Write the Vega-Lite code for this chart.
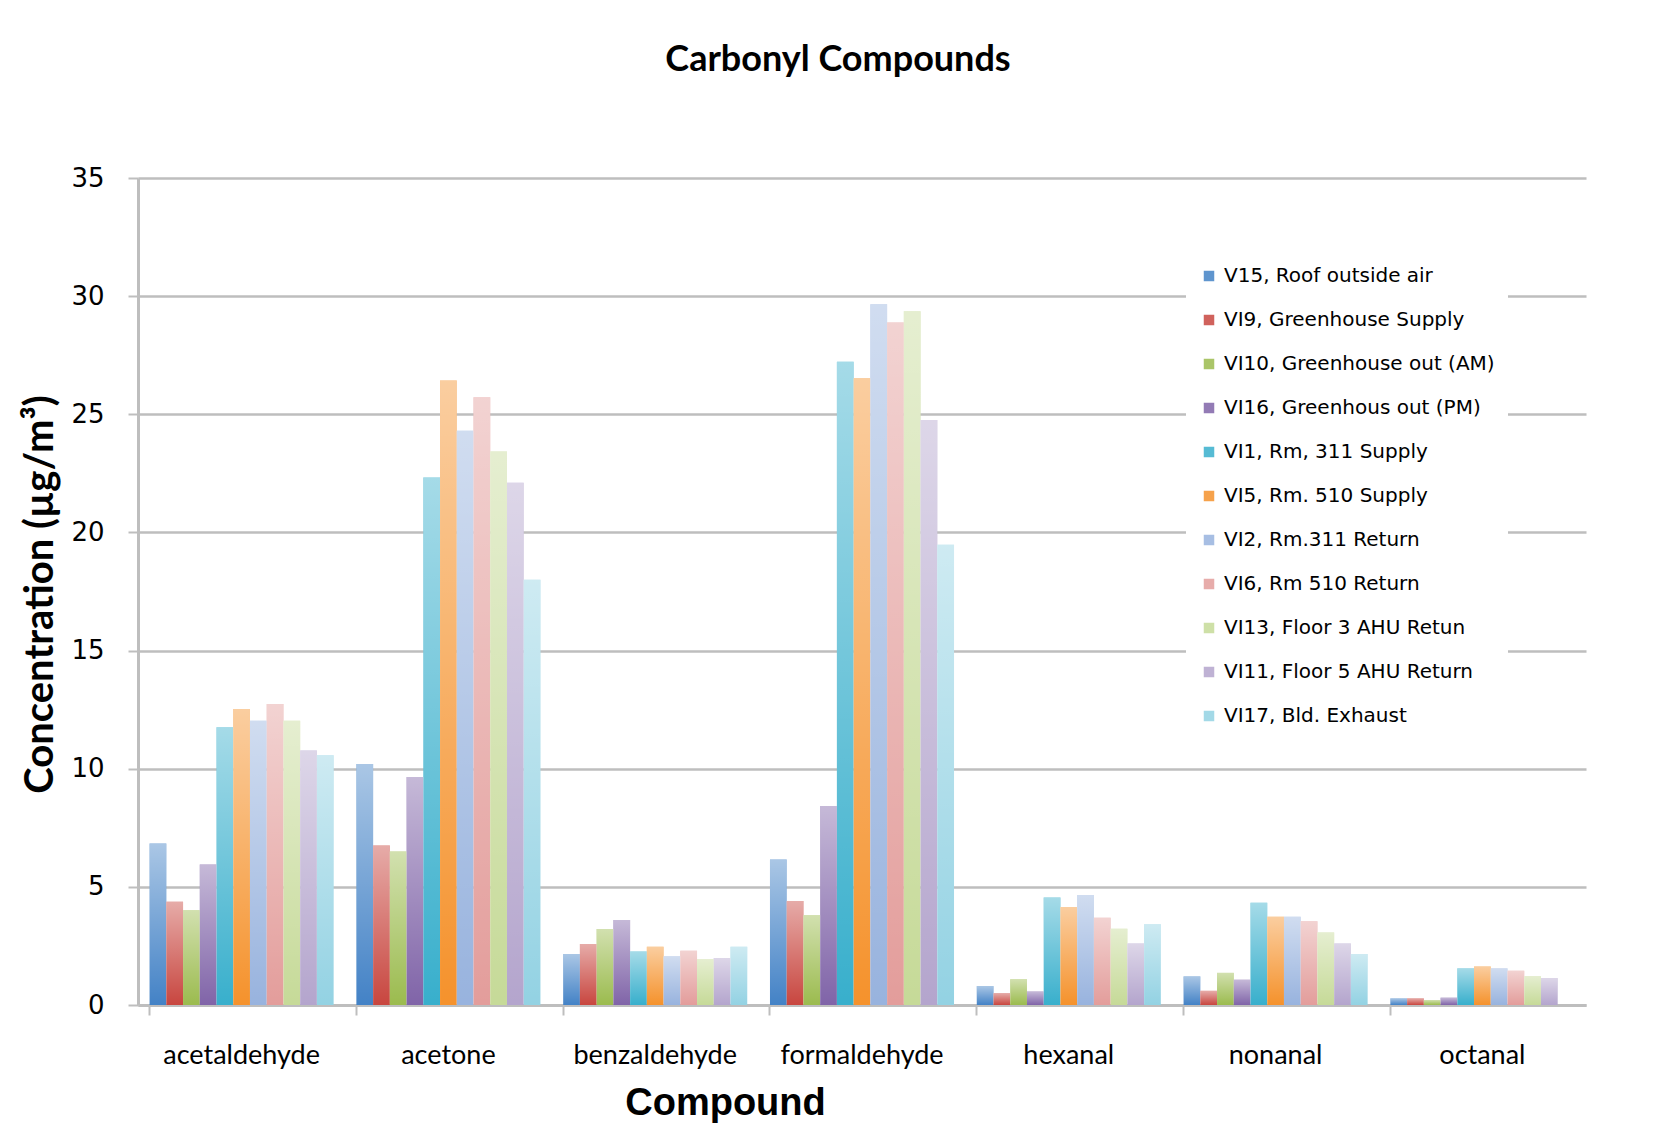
{
  "$schema": "https://vega.github.io/schema/vega-lite/v6.json",
  "autosize": {"type": "none"},
  "width": 1448,
  "height": 827,
  "padding": {"left": 138, "top": 178, "right": 77, "bottom": 128},
  "background": "white",
  "title": {
    "text": "Carbonyl Compounds",
    "font": "Lato",
    "fontSize": 36,
    "fontWeight": "bold",
    "color": "#000000",
    "anchor": "middle",
    "frame": "group",
    "offset": 86,
    "dx": -24
  },
  "data": {
    "values": [
      {"compound": "acetaldehyde", "site": "V15, Roof outside air", "value": 6.83},
      {"compound": "acetaldehyde", "site": "VI9, Greenhouse Supply", "value": 4.37},
      {"compound": "acetaldehyde", "site": "VI10, Greenhouse out (AM)", "value": 4.01},
      {"compound": "acetaldehyde", "site": "VI16, Greenhous out (PM)", "value": 5.95},
      {"compound": "acetaldehyde", "site": "VI1, Rm, 311 Supply", "value": 11.75},
      {"compound": "acetaldehyde", "site": "VI5, Rm. 510 Supply", "value": 12.53},
      {"compound": "acetaldehyde", "site": "VI2, Rm.311 Return", "value": 12.03},
      {"compound": "acetaldehyde", "site": "VI6, Rm 510 Return", "value": 12.74},
      {"compound": "acetaldehyde", "site": "VI13, Floor 3 AHU Retun", "value": 12.03},
      {"compound": "acetaldehyde", "site": "VI11, Floor 5 AHU Return", "value": 10.77},
      {"compound": "acetaldehyde", "site": "VI17, Bld. Exhaust", "value": 10.57},
      {"compound": "acetone", "site": "V15, Roof outside air", "value": 10.2},
      {"compound": "acetone", "site": "VI9, Greenhouse Supply", "value": 6.75},
      {"compound": "acetone", "site": "VI10, Greenhouse out (AM)", "value": 6.5},
      {"compound": "acetone", "site": "VI16, Greenhous out (PM)", "value": 9.65},
      {"compound": "acetone", "site": "VI1, Rm, 311 Supply", "value": 22.32},
      {"compound": "acetone", "site": "VI5, Rm. 510 Supply", "value": 26.43},
      {"compound": "acetone", "site": "VI2, Rm.311 Return", "value": 24.3},
      {"compound": "acetone", "site": "VI6, Rm 510 Return", "value": 25.72},
      {"compound": "acetone", "site": "VI13, Floor 3 AHU Retun", "value": 23.42},
      {"compound": "acetone", "site": "VI11, Floor 5 AHU Return", "value": 22.1},
      {"compound": "acetone", "site": "VI17, Bld. Exhaust", "value": 18.0},
      {"compound": "benzaldehyde", "site": "V15, Roof outside air", "value": 2.16},
      {"compound": "benzaldehyde", "site": "VI9, Greenhouse Supply", "value": 2.58},
      {"compound": "benzaldehyde", "site": "VI10, Greenhouse out (AM)", "value": 3.22},
      {"compound": "benzaldehyde", "site": "VI16, Greenhous out (PM)", "value": 3.6},
      {"compound": "benzaldehyde", "site": "VI1, Rm, 311 Supply", "value": 2.26},
      {"compound": "benzaldehyde", "site": "VI5, Rm. 510 Supply", "value": 2.47},
      {"compound": "benzaldehyde", "site": "VI2, Rm.311 Return", "value": 2.06},
      {"compound": "benzaldehyde", "site": "VI6, Rm 510 Return", "value": 2.3},
      {"compound": "benzaldehyde", "site": "VI13, Floor 3 AHU Retun", "value": 1.94},
      {"compound": "benzaldehyde", "site": "VI11, Floor 5 AHU Return", "value": 1.99},
      {"compound": "benzaldehyde", "site": "VI17, Bld. Exhaust", "value": 2.47},
      {"compound": "formaldehyde", "site": "V15, Roof outside air", "value": 6.16},
      {"compound": "formaldehyde", "site": "VI9, Greenhouse Supply", "value": 4.4},
      {"compound": "formaldehyde", "site": "VI10, Greenhouse out (AM)", "value": 3.8},
      {"compound": "formaldehyde", "site": "VI16, Greenhous out (PM)", "value": 8.42},
      {"compound": "formaldehyde", "site": "VI1, Rm, 311 Supply", "value": 27.22},
      {"compound": "formaldehyde", "site": "VI5, Rm. 510 Supply", "value": 26.52},
      {"compound": "formaldehyde", "site": "VI2, Rm.311 Return", "value": 29.66},
      {"compound": "formaldehyde", "site": "VI6, Rm 510 Return", "value": 28.88},
      {"compound": "formaldehyde", "site": "VI13, Floor 3 AHU Retun", "value": 29.36},
      {"compound": "formaldehyde", "site": "VI11, Floor 5 AHU Return", "value": 24.76},
      {"compound": "formaldehyde", "site": "VI17, Bld. Exhaust", "value": 19.48},
      {"compound": "hexanal", "site": "V15, Roof outside air", "value": 0.8},
      {"compound": "hexanal", "site": "VI9, Greenhouse Supply", "value": 0.5},
      {"compound": "hexanal", "site": "VI10, Greenhouse out (AM)", "value": 1.09},
      {"compound": "hexanal", "site": "VI16, Greenhous out (PM)", "value": 0.57},
      {"compound": "hexanal", "site": "VI1, Rm, 311 Supply", "value": 4.55},
      {"compound": "hexanal", "site": "VI5, Rm. 510 Supply", "value": 4.15},
      {"compound": "hexanal", "site": "VI2, Rm.311 Return", "value": 4.66},
      {"compound": "hexanal", "site": "VI6, Rm 510 Return", "value": 3.69},
      {"compound": "hexanal", "site": "VI13, Floor 3 AHU Retun", "value": 3.23},
      {"compound": "hexanal", "site": "VI11, Floor 5 AHU Return", "value": 2.6},
      {"compound": "hexanal", "site": "VI17, Bld. Exhaust", "value": 3.42},
      {"compound": "nonanal", "site": "V15, Roof outside air", "value": 1.21},
      {"compound": "nonanal", "site": "VI9, Greenhouse Supply", "value": 0.6},
      {"compound": "nonanal", "site": "VI10, Greenhouse out (AM)", "value": 1.36},
      {"compound": "nonanal", "site": "VI16, Greenhous out (PM)", "value": 1.07},
      {"compound": "nonanal", "site": "VI1, Rm, 311 Supply", "value": 4.33},
      {"compound": "nonanal", "site": "VI5, Rm. 510 Supply", "value": 3.74},
      {"compound": "nonanal", "site": "VI2, Rm.311 Return", "value": 3.74},
      {"compound": "nonanal", "site": "VI6, Rm 510 Return", "value": 3.54},
      {"compound": "nonanal", "site": "VI13, Floor 3 AHU Retun", "value": 3.07},
      {"compound": "nonanal", "site": "VI11, Floor 5 AHU Return", "value": 2.6},
      {"compound": "nonanal", "site": "VI17, Bld. Exhaust", "value": 2.16},
      {"compound": "octanal", "site": "V15, Roof outside air", "value": 0.28},
      {"compound": "octanal", "site": "VI9, Greenhouse Supply", "value": 0.28},
      {"compound": "octanal", "site": "VI10, Greenhouse out (AM)", "value": 0.21},
      {"compound": "octanal", "site": "VI16, Greenhous out (PM)", "value": 0.31},
      {"compound": "octanal", "site": "VI1, Rm, 311 Supply", "value": 1.55},
      {"compound": "octanal", "site": "VI5, Rm. 510 Supply", "value": 1.63},
      {"compound": "octanal", "site": "VI2, Rm.311 Return", "value": 1.55},
      {"compound": "octanal", "site": "VI6, Rm 510 Return", "value": 1.45},
      {"compound": "octanal", "site": "VI13, Floor 3 AHU Retun", "value": 1.22},
      {"compound": "octanal", "site": "VI11, Floor 5 AHU Return", "value": 1.14}
    ]
  },
  "encoding": {
    "x": {
      "field": "compound",
      "type": "nominal",
      "sort": ["acetaldehyde", "acetone", "benzaldehyde", "formaldehyde", "hexanal", "nonanal", "octanal"],
      "scale": {"paddingInner": 0.11, "paddingOuter": 0.056},
      "axis": {
        "title": "Compound",
        "titleFont": "Liberation Sans",
        "titleFontSize": 38,
        "titleFontWeight": "bold",
        "titleColor": "#000000",
        "titleAnchor": "start",
        "titleAlign": "center",
        "titleX": 587,
        "titleY": 98,
        "titleBaseline": "middle",
        "labelAngle": 0,
        "labelFont": "Lato",
        "labelFontSize": 27,
        "labelColor": "#000000",
        "labelPadding": 27,
        "bandPosition": 0,
        "ticks": true,
        "tickSize": 10,
        "tickColor": "#BEBEBE",
        "tickWidth": 2,
        "domainColor": "#BEBEBE",
        "domainWidth": 3
      }
    },
    "xOffset": {
      "field": "site",
      "type": "nominal",
      "sort": ["V15, Roof outside air", "VI9, Greenhouse Supply", "VI10, Greenhouse out (AM)", "VI16, Greenhous out (PM)", "VI1, Rm, 311 Supply", "VI5, Rm. 510 Supply", "VI2, Rm.311 Return", "VI6, Rm 510 Return", "VI13, Floor 3 AHU Retun", "VI11, Floor 5 AHU Return", "VI17, Bld. Exhaust"],
      "scale": {"paddingInner": 0, "paddingOuter": 0}
    },
    "y": {
      "field": "value",
      "type": "quantitative",
      "scale": {"domain": [0, 35], "nice": false},
      "axis": {
        "title": "Concentration (µg/m³)",
        "titleFont": "Lato",
        "titleFontSize": 40,
        "titleFontWeight": "bold",
        "titleColor": "#000000",
        "titleX": -98,
        "titleY": 416,
        "titleAngle": -90,
        "titleAlign": "center",
        "titleBaseline": "middle",
        "values": [0, 5, 10, 15, 20, 25, 30, 35],
        "labelFont": "DejaVu Sans",
        "labelFontSize": 26,
        "labelColor": "#000000",
        "labelPadding": 24,
        "tickSize": 10,
        "tickColor": "#BEBEBE",
        "tickWidth": 2,
        "grid": true,
        "gridColor": "#BEBEBE",
        "gridWidth": 2.5,
        "domainColor": "#BEBEBE",
        "domainWidth": 3
      }
    }
  },
  "layer": [
    {
      "mark": {"type": "bar"},
      "encoding": {
        "color": {
          "field": "site",
          "type": "nominal",
          "scale": {
            "domain": ["V15, Roof outside air", "VI9, Greenhouse Supply", "VI10, Greenhouse out (AM)", "VI16, Greenhous out (PM)", "VI1, Rm, 311 Supply", "VI5, Rm. 510 Supply", "VI2, Rm.311 Return", "VI6, Rm 510 Return", "VI13, Floor 3 AHU Retun", "VI11, Floor 5 AHU Return", "VI17, Bld. Exhaust"],
            "range": ["#4382C6", "#C8463F", "#9BBB4E", "#8064A8", "#38AFCC", "#F5922C", "#98B3DE", "#E39D9B", "#C6DA98", "#B4A5CD", "#93D2E3"]
          },
          "legend": {
            "title": null,
            "orient": "none",
            "legendX": 1048,
            "legendY": 75,
            "fillColor": "white",
            "padding": 13,
            "symbolType": "square",
            "symbolSize": 110,
            "symbolStrokeWidth": 0,
            "symbolOpacity": 0.85,
            "labelFont": "DejaVu Sans",
            "labelFontSize": 20,
            "labelColor": "#000000",
            "labelOffset": 5,
            "labelLimit": 400,
            "rowPadding": 24
          }
        }
      }
    },
    {
      "mark": {
        "type": "bar",
        "color": {
          "gradient": "linear",
          "x1": 0, "y1": 1, "x2": 0, "y2": 0,
          "stops": [
            {"offset": 0, "color": "rgba(255,255,255,0)"},
            {"offset": 1, "color": "rgba(255,255,255,0.55)"}
          ]
        }
      },
      "encoding": {}
    }
  ],
  "config": {
    "view": {"stroke": null},
    "axis": {"zindex": 0}
  }
}
